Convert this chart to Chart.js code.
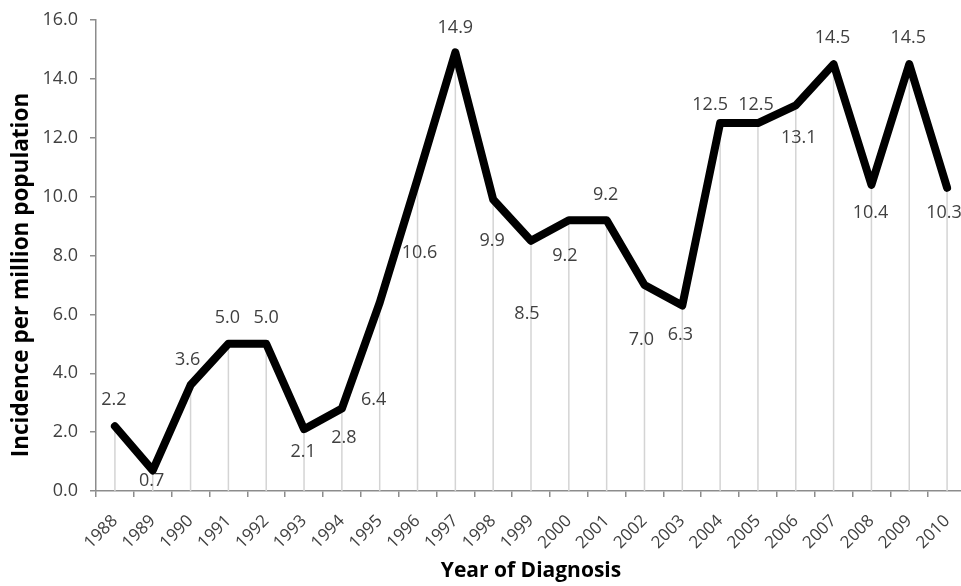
<!DOCTYPE html>
<html>
<head>
<meta charset="utf-8">
<script src="https://cdn.jsdelivr.net/npm/chart.js@4/dist/chart.umd.min.js"></script>
<style>
  html, body { margin: 0; padding: 0; background: #fff; overflow: hidden; }
  #wrap { width: 966px; height: 586px; }
</style>
</head>
<body>
<div id="wrap"><canvas id="myChart" width="966" height="586"></canvas></div>
<script>
const years = ['1988', '1989', '1990', '1991', '1992', '1993', '1994', '1995', '1996', '1997', '1998', '1999',
  '2000', '2001', '2002', '2003', '2004', '2005', '2006', '2007', '2008', '2009', '2010']
const incidence = [2.2, 0.7, 3.6, 5.0, 5.0, 2.1, 2.8, 6.4, 10.6, 14.9, 9.9, 8.5,
  9.2, 9.2, 7.0, 6.3, 12.5, 12.5, 13.1, 14.5, 10.4, 14.5, 10.3]
const yTicks = [0, 2, 4, 6, 8, 10, 12, 14, 16]
const yTitle = 'Incidence per million population'
const xTitle = 'Year of Diagnosis'

// where each value label sits relative to its point (px)
const labelDy = [-26, 10, -25, -26, -26, 23, 29, 97, 74, -25, 41, 73,
  36, -25, 55, 29, -18, -18, 33, -26, 28, -26, 25]
const labelDx = [-1, -1, -3, -1, 0, -1, 2, -6, 2, 0, -1, -4,
  -4, -1, -3, -2, -10, -2, 3, -1, -1, -1, -3]

const textColor = '#404040'
const axisColor = '#8c8c8c'
const font = '"Open Sans", sans-serif'

// thin grey lines from each point down to the axis
const dropLines = {
  id: 'dropLines',
  beforeDatasetsDraw( chart ) {
    const { ctx, scales: { x, y } } = chart
    ctx.save()
    ctx.strokeStyle = '#d4d4d4'
    ctx.lineWidth = 1.5
    incidence.forEach( ( v, i ) => {
      const px = x.getPixelForValue( i )
      ctx.beginPath()
      ctx.moveTo( px, y.getPixelForValue( v ) )
      ctx.lineTo( px, y.getPixelForValue( 0 ) )
      ctx.stroke()
    } )
    ctx.restore()
  }
}

// value labels + y axis title (excel puts it a bit lower than the axis middle)
const valueLabels = {
  id: 'valueLabels',
  afterDatasetsDraw( chart ) {
    const { ctx, scales: { x, y } } = chart
    ctx.save()
    ctx.font = '18px ' + font
    ctx.fillStyle = textColor
    ctx.textAlign = 'center'
    ctx.textBaseline = 'middle'
    incidence.forEach( ( v, i ) => {
      ctx.fillText( v.toFixed( 1 ), x.getPixelForValue( i ) + labelDx[i], y.getPixelForValue( v ) + labelDy[i] )
    } )

    ctx.translate( 22, 275 )
    ctx.rotate( -Math.PI / 2 )
    ctx.font = 'bold 22.5px ' + font
    ctx.fillStyle = '#000'
    ctx.fillText( yTitle, 0, 0 )
    ctx.restore()
  }
}

new Chart( document.getElementById( 'myChart' ), {
  type: 'line',
  data: {
    labels: years,
    datasets: [{
      data: incidence,
      borderColor: '#000',
      borderWidth: 8,
      borderJoinStyle: 'round',
      borderCapStyle: 'round',
      pointRadius: 0,
      tension: 0
    }]
  },
  options: {
    responsive: false,
    animation: false,
    layout: { padding: { top: 20, right: 0, left: 0, bottom: 0 } },
    plugins: { legend: { display: false }, tooltip: { enabled: false } },
    scales: {
      x: {
        offset: true,
        grid: { offset: true, drawOnChartArea: false, color: axisColor, lineWidth: 1.5, tickLength: 6 },
        border: { color: axisColor, width: 1.5 },
        ticks: {
          color: textColor,
          font: { family: font, size: 17 },
          maxRotation: 45,
          minRotation: 45,
          autoSkip: false,
          padding: 14
        },
        title: {
          display: true,
          text: xTitle,
          color: '#000',
          font: { family: font, size: 21, weight: 'bold' },
          padding: { top: 4, bottom: 2 }
        },
        afterFit( scale ) {
          scale.height = 95
          scale.paddingLeft = 0
          scale.paddingRight = 0
        }
      },
      y: {
        min: 0,
        max: 16,
        afterBuildTicks( scale ) { scale.ticks = yTicks.map( v => ( { value: v } ) ) },
        grid: { drawOnChartArea: false, color: axisColor, lineWidth: 1.5, tickLength: 6 },
        border: { color: axisColor, width: 1.5 },
        ticks: {
          color: textColor,
          font: { family: font, size: 18 },
          padding: 12,
          callback: v => Number( v ).toFixed( 1 )
        },
        afterFit( scale ) {
          scale.width = 96
          scale.paddingTop = 0
          scale.paddingBottom = 0
        }
      }
    }
  },
  plugins: [dropLines, valueLabels]
} )
</script>
</body>
</html>
